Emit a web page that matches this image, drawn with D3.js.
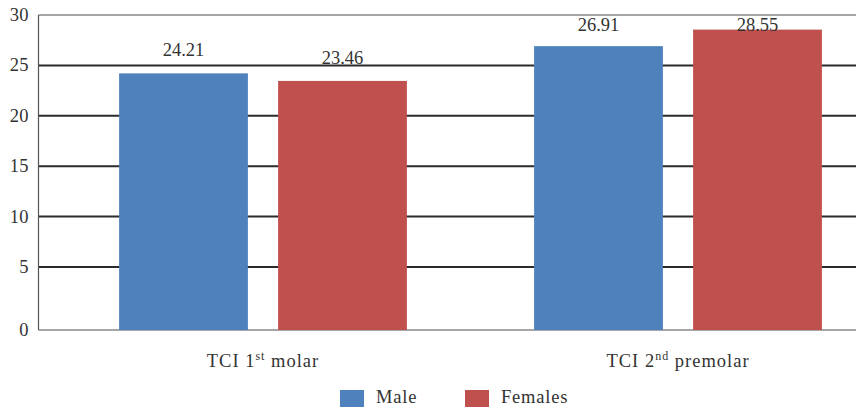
<!DOCTYPE html>
<html>
<head>
<meta charset="utf-8">
<script src="https://cdn.jsdelivr.net/npm/d3@7"></script>
<style>
  html, body { margin: 0; padding: 0; background: #fff; }
  svg { display: block; }
</style>
</head>
<body>
<svg id="chart" width="856" height="407"></svg>
<script>
// Tooth crown index by sex
const categories = ["TCI 1st molar", "TCI 2nd premolar"];
const series = ["Male", "Females"];
const maleValues = [24.21, 26.91];
const femaleValues = [23.46, 28.55];
const yTicks = [0, 5, 10, 15, 20, 25, 30];
const colors = ["#4f81bd", "#c0504d"];

const FONT = "'Liberation Serif', 'DejaVu Serif', serif";
const FONT_SIZE = 18.5;
const TEXT_COLOR = "#333";

const plot = { left: 38.5, right: 856, top: 15, bottom: 330 };

const svg = d3.select("#chart")
  .attr("font-family", FONT)
  .attr("fill", TEXT_COLOR);

// value axis: the lowest interval is drawn taller than the others
const y = d3.scaleLinear().domain([0, 5, 30]).range([plot.bottom, 267, plot.top]);

// category bands and the bars inside each band
const x0 = d3.scaleBand().domain(categories).range([55.5, 885.5]).padding(0);
const x1 = d3.scaleBand().domain(series)
  .range([0, x0.bandwidth()]).paddingInner(0.19).paddingOuter(0.4);

// gridlines
svg.append("g").selectAll("line").data(yTicks).join("line")
  .attr("x1", plot.left).attr("x2", plot.right)
  .attr("y1", d => y(d)).attr("y2", d => y(d))
  .attr("stroke", d => (d === 0 || d === 30) ? "#a6a6a6" : "#2b2b2b")
  .attr("stroke-width", 2);

// left axis line
svg.append("line")
  .attr("x1", plot.left).attr("x2", plot.left)
  .attr("y1", plot.top).attr("y2", plot.bottom)
  .attr("stroke", "#555").attr("stroke-width", 1.2);

// tick labels
svg.append("g").selectAll("text").data(yTicks).join("text")
  .attr("x", 29).attr("y", d => y(d))
  .attr("text-anchor", "end").attr("dominant-baseline", "central")
  .attr("font-family", FONT).attr("font-size", FONT_SIZE).attr("fill", TEXT_COLOR)
  .attr("letter-spacing", 0.4)
  .text(d => d);

// bars
const rows = categories.map((c, i) => ({
  category: c,
  values: [
    { series: series[0], value: maleValues[i], color: colors[0] },
    { series: series[1], value: femaleValues[i], color: colors[1] }
  ]
}));

const groups = svg.append("g").selectAll("g").data(rows).join("g")
  .attr("transform", d => `translate(${x0(d.category)},0)`);

groups.selectAll("rect").data(d => d.values).join("rect")
  .attr("x", d => x1(d.series))
  .attr("width", x1.bandwidth())
  .attr("y", d => y(d.value))
  .attr("height", d => y(0) - y(d.value))
  .attr("fill", d => d.color);

// value labels, kept below the top border
groups.selectAll("text").data(d => d.values).join("text")
  .attr("x", d => x1(d.series) + x1.bandwidth() / 2)
  .attr("y", d => Math.max(y(d.value) - 17, plot.top + 16))
  .attr("text-anchor", "middle")
  .attr("font-family", FONT).attr("font-size", FONT_SIZE).attr("fill", TEXT_COLOR)
  .text(d => d.value.toFixed(2));

// category labels with ordinal superscripts
const catLabels = svg.append("g").selectAll("text").data(categories).join("text")
  .attr("x", d => x0(d) + x0.bandwidth() / 2)
  .attr("y", 367)
  .attr("text-anchor", "middle")
  .attr("font-family", FONT).attr("font-size", FONT_SIZE).attr("fill", TEXT_COLOR)
  .attr("letter-spacing", 1);

catLabels.each(function (d) {
  const m = d.match(/^(.*?\d)(st|nd|rd|th)\s+(.*)$/);
  const t = d3.select(this);
  t.append("tspan").text(m[1]);
  t.append("tspan").attr("dy", -7).attr("font-size", 12).text(m[2]);
  t.append("tspan").attr("dy", 7).text("\u00a0" + m[3]);
});

// legend
const legend = svg.append("g").selectAll("g").data(series).join("g")
  .attr("transform", (d, i) => `translate(${340 + i * 125},390)`);
legend.append("rect")
  .attr("width", 24).attr("height", 17)
  .attr("fill", (d, i) => colors[i]);
legend.append("text")
  .attr("x", 36).attr("y", 13)
  .attr("font-family", FONT).attr("font-size", FONT_SIZE).attr("fill", TEXT_COLOR)
  .attr("letter-spacing", 0.8)
  .text(d => d);
</script>
</body>
</html>
